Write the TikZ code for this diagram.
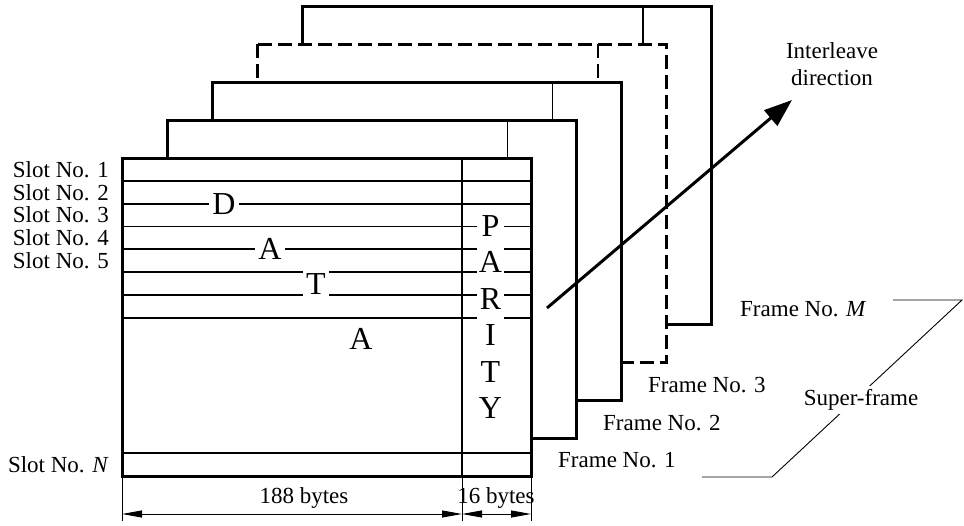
\documentclass[tikz,border=0pt]{standalone}
\usepackage{fontspec}
\setmainfont{Liberation Serif}
\usetikzlibrary{arrows.meta}
\tikzset{frame/.style={draw,line width=3pt,fill=white},dashframe/.style={frame,dash pattern=on 14pt off 6pt},slotline/.style={line width=1.8pt},divider/.style={line width=1.5pt},lab/.style={font=\fontsize{23}{27}\selectfont,inner sep=0pt,align=center},letter/.style={font=\fontsize{32}{36.5}\selectfont,fill=white,inner sep=3pt},flow/.style={-{Triangle[length=28pt,width=20pt]},line width=3pt},dimline/.style={line width=.9pt,{Triangle[length=20pt,width=7pt]}-{Triangle[length=20pt,width=7pt]}},thinline/.style={line width=.9pt}}

\begin{document}
\begin{tikzpicture}[x=1pt,y=-1pt]
\useasboundingbox (0,0) rectangle (964,525);

% frames, back to front
\draw[frame] (302.8,6) rectangle (711.8,324);
\draw[divider] (643,6) -- (643,324);
\draw[dashframe] (257.6,44) rectangle (666.6,362);
\draw[divider,dash pattern=on 14pt off 6pt] (597.8,44) -- (597.8,362);
\draw[frame] (212.4,82) rectangle (621.4,400);
\draw[divider] (552.6,82) -- (552.6,400);
\draw[frame] (167.2,120) rectangle (576.2,438);
\draw[divider] (507.4,120) -- (507.4,438);

% front frame with slots
\fill[white] (122,158) rectangle (531,476);
\draw[slotline] (122,180.8) -- (531,180.8);
\draw[slotline] (122,203.6) -- (531,203.6);
\draw[slotline] (122,226.4) -- (531,226.4);
\draw[slotline] (122,249.2) -- (531,249.2);
\draw[slotline] (122,272) -- (531,272);
\draw[slotline] (122,294.8) -- (531,294.8);
\draw[slotline] (122,317.6) -- (531,317.6);
\draw[slotline] (122,453) -- (531,453);
\draw[slotline] (462,158) -- (462,476);
\draw[line width=3pt] (122,158) rectangle (531,476);

\node[letter] (dataD) at (224,203.6) {D};
\node[letter] (dataA) at (270,249.2) {A};
\node[letter] (dataT) at (316,284) {T};
\node[letter,fill=none] (dataA2) at (361,339) {A};
\node[letter,align=center,anchor=north,inner xsep=1.5pt,inner ysep=2pt] (parity) at (490.5,213) {P\\A\\R\\I\\T\\Y};

\node[lab,anchor=east] (slot1) at (109,169.4) {Slot No. 1};
\node[lab,anchor=east] (slot2) at (109,192.2) {Slot No. 2};
\node[lab,anchor=east] (slot3) at (109,215) {Slot No. 3};
\node[lab,anchor=east] (slot4) at (109,237.8) {Slot No. 4};
\node[lab,anchor=east] (slot5) at (109,260.6) {Slot No. 5};
\node[lab,anchor=east] (slotN) at (109,464.5) {Slot No. \textit{N}};

% byte widths
\coordinate (tickL) at (122,478);
\coordinate (tickM) at (462,478);
\coordinate (tickR) at (531,478);
\draw[thinline] (tickL) -- ++(0,43) coordinate (tickLb);
\draw[thinline] (tickM) -- ++(0,43) coordinate (tickMb);
\draw[thinline] (tickR) -- ++(0,43) coordinate (tickRb);
\draw[dimline] ([yshift=7pt]tickLb) -- ([yshift=7pt]tickMb);
\draw[dimline] ([yshift=7pt]tickMb) -- ([yshift=7pt]tickRb);
\node[lab,anchor=base] (data188) at (304,503) {188 bytes};
\node[lab,anchor=base] (parity16) at (496,503) {16 bytes};

% frame labels
\node[lab,anchor=base west] (frame1) at (558,467.7) {Frame No. 1};
\node[lab,anchor=base west] (frame2) at (603,430) {Frame No. 2};
\node[lab,anchor=base west] (frame3) at (648,392.7) {Frame No. 3};
\node[lab,anchor=base west] (frameM) at (740,316.5) {Frame No. \textit{M}};

% super-frame bracket
\coordinate (sfa) at (702,477);
\coordinate (sfb) at (772,477);
\coordinate (sfc) at (962,300);
\coordinate (sfd) at (893,300);
\draw[thinline] (sfa) -- (sfb) -- (sfc) -- (sfd);
\node[lab,fill=white,inner sep=3pt] (superframe) at (861,400) {Super-frame};

% interleave direction
\coordinate (ilstart) at (547,308);
\coordinate (iltip) at (792,100);
\draw[flow] (ilstart) -- (iltip);
\node[lab,anchor=north] (interleave) at (832,42.3) {Interleave\\direction};
\end{tikzpicture}
\end{document}
